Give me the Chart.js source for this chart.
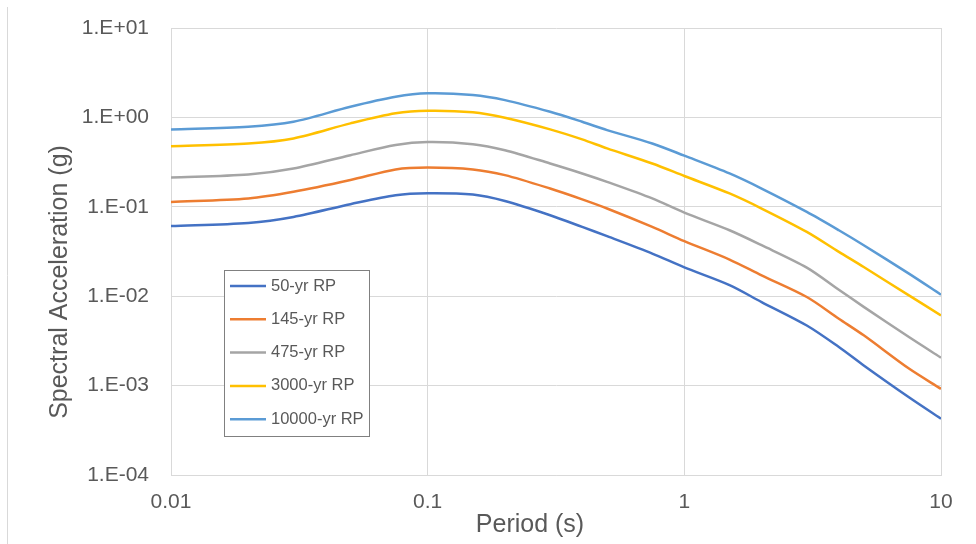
<!DOCTYPE html>
<html>
<head>
<meta charset="utf-8">
<script src="https://cdn.jsdelivr.net/npm/chart.js@4"></script>
<style>
  body { margin: 0; background: #fff; }
  #wrap { position: relative; width: 976px; height: 544px; }
</style>
</head>
<body>
<div id="wrap"><canvas id="spectra"></canvas></div>
<script>
// periods (s) and spectral acceleration (g) per return period
const periods = [0.01, 0.02, 0.03, 0.05, 0.075, 0.1, 0.15, 0.2, 0.3, 0.4, 0.5, 0.75, 1, 1.5, 2, 3, 4, 5, 7.5, 10];
const rp50    = [0.061, 0.066, 0.077, 0.107, 0.135, 0.142, 0.137, 0.116, 0.0805, 0.0596, 0.0469, 0.030, 0.021, 0.0133, 0.0086, 0.0047, 0.0027, 0.00168, 0.00074, 0.000426];
const rp145   = [0.1135, 0.124, 0.147, 0.199, 0.262, 0.275, 0.262, 0.226, 0.16, 0.121, 0.0957, 0.0596, 0.0413, 0.0257, 0.0171, 0.0098, 0.0056, 0.00365, 0.00155, 0.00092];
const rp475   = [0.213, 0.23, 0.268, 0.378, 0.49, 0.529, 0.502, 0.43, 0.305, 0.236, 0.19, 0.124, 0.086, 0.0547, 0.0372, 0.0209, 0.0118, 0.0076, 0.00349, 0.00205];
const rp3000  = [0.476, 0.511, 0.582, 0.857, 1.11, 1.186, 1.14, 0.99, 0.734, 0.567, 0.45, 0.305, 0.221, 0.141, 0.0957, 0.0524, 0.0313, 0.0212, 0.0102, 0.0061];
const rp10000 = [0.734, 0.785, 0.893, 1.315, 1.70, 1.86, 1.78, 1.56, 1.155, 0.893, 0.721, 0.511, 0.373, 0.236, 0.16, 0.0877, 0.0547, 0.0372, 0.0179, 0.0104];

const seriesNames = ['50-yr RP', '145-yr RP', '475-yr RP', '3000-yr RP', '10000-yr RP'];
const seriesData = [rp50, rp145, rp475, rp3000, rp10000];
const seriesColors = ['#4472C4', '#ED7D31', '#A5A5A5', '#FFC000', '#5B9BD5'];

const xTicks = [0.01, 0.1, 1, 10];
const yTicks = [1e-4, 1e-3, 1e-2, 1e-1, 1, 10];

const FONT = '"Liberation Sans", Arial, sans-serif';
const TEXT = '#595959';
const GRID = '#D9D9D9';

function sciLabel(v) {
    const e = Math.round(Math.log10(v));
    const s = String(Math.abs(e)).padStart(2, '0');
    return '1.E' + (e < 0 ? '-' : '+') + s;
}

// titles, the thin left frame line and the boxed legend inside the plot
const extras = {
    id: 'extras',
    beforeDraw(chart) {
        const c = chart.ctx;
        c.save();
        c.strokeStyle = GRID;
        c.lineWidth = 1;
        c.beginPath();
        c.moveTo(7.5, 7);
        c.lineTo(7.5, 544);
        c.stroke();
        c.restore();
    },
    afterDraw(chart) {
        const c = chart.ctx;
        c.save();
        c.fillStyle = TEXT;
        c.font = '25px ' + FONT;
        c.textAlign = 'center';
        c.textBaseline = 'middle';
        c.fillText('Period (s)', 530, 525);
        c.translate(60, 282);
        c.rotate(-Math.PI / 2);
        c.fillText('Spectral Acceleration (g)', 0, 0);
        c.restore();

        // legend
        const bx = 224, by = 270, bw = 145, bh = 166;
        c.save();
        c.fillStyle = '#fff';
        c.fillRect(bx, by, bw, bh);
        c.strokeStyle = '#808080';
        c.lineWidth = 1;
        c.strokeRect(bx + 0.5, by + 0.5, bw, bh);
        c.font = '16.5px ' + FONT;
        c.textBaseline = 'middle';
        c.textAlign = 'left';
        chart.data.datasets.forEach((ds, i) => {
            const y = 286 + i * 33.3;
            c.strokeStyle = ds.borderColor;
            c.lineWidth = 2.5;
            c.beginPath();
            c.moveTo(230, y);
            c.lineTo(266, y);
            c.stroke();
            c.fillStyle = TEXT;
            c.fillText(ds.label, 271, y);
        });
        c.restore();
    }
};

const datasets = seriesNames.map((name, i) => ({
    label: name,
    data: periods.map((p, j) => ({ x: p, y: seriesData[i][j] })),
    borderColor: seriesColors[i],
    backgroundColor: seriesColors[i],
    borderWidth: 2.5,
    pointRadius: 0,
    tension: 0.3,
    fill: false
}));

new Chart(document.getElementById('spectra'), {
    type: 'line',
    data: { datasets: datasets },
    options: {
        responsive: true,
        maintainAspectRatio: false,
        animation: false,
        layout: { padding: { left: 0, top: 28, right: 35, bottom: 0 } },
        plugins: {
            legend: { display: false },
            tooltip: { enabled: false }
        },
        scales: {
            x: {
                type: 'logarithmic',
                min: 0.01,
                max: 10,
                afterBuildTicks: (s) => { s.ticks = xTicks.map(v => ({ value: v })); },
                afterFit: (s) => { s.height = 69; },
                ticks: {
                    color: TEXT,
                    font: { family: FONT, size: 21 },
                    padding: 15,
                    maxRotation: 0,
                    autoSkip: false,
                    callback: (v) => String(v)
                },
                grid: { color: GRID, lineWidth: 1, drawTicks: false },
                border: { color: GRID }
            },
            y: {
                type: 'logarithmic',
                min: 1e-4,
                max: 10,
                afterBuildTicks: (s) => { s.ticks = yTicks.map(v => ({ value: v })); },
                afterFit: (s) => {
                    s.width = 171;
                    // the label gap should not push the plot down
                    s.paddingTop = 0;
                    s.paddingBottom = 0;
                },
                ticks: {
                    color: TEXT,
                    font: { family: FONT, size: 21 },
                    padding: 22,
                    autoSkip: false,
                    callback: (v) => sciLabel(v)
                },
                grid: { color: GRID, lineWidth: 1, drawTicks: false },
                border: { color: GRID }
            }
        }
    },
    plugins: [extras]
});
</script>
</body>
</html>
